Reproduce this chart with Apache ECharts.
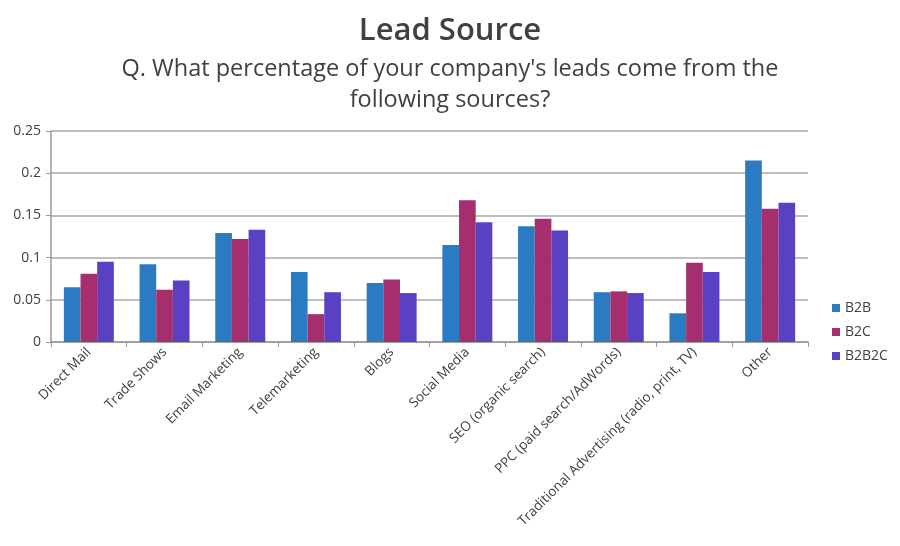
<!DOCTYPE html>
<html><head><meta charset="utf-8">
<script src="https://cdn.jsdelivr.net/npm/echarts@6/dist/echarts.min.js"></script>
<style>html,body{margin:0;padding:0;background:#fff}#c{width:900px;height:546px}</style>
</head><body><div id="c"></div>
<script>
var categories = ["Direct Mail","Trade Shows","Email Marketing","Telemarketing","Blogs","Social Media","SEO (organic search)","PPC (paid search/AdWords)","Traditional Advertising (radio, print, TV)","Other"];
var seriesNames = ["B2B","B2C","B2B2C"];
var b2b   = [0.065,0.092,0.129,0.083,0.070,0.115,0.137,0.059,0.034,0.215];
var b2c   = [0.081,0.062,0.122,0.033,0.074,0.168,0.146,0.060,0.094,0.158];
var b2b2c = [0.095,0.073,0.133,0.059,0.058,0.142,0.132,0.058,0.083,0.165];
var titleText = "Lead Source";
var subtitleLines = ["Q. What percentage of your company's leads come from the","following sources?"];
var colors = ["#2a7bc1","#a52f6e","#5a40c3"];
var font = "'Open Sans', sans-serif";
var chart = echarts.init(document.getElementById('c'));
var data = [b2b,b2c,b2b2c];
chart.setOption({
  animation:false,
  title:[
    {text:titleText, left:'center', top:11, textStyle:{fontFamily:font,fontSize:31,fontWeight:600,color:'#404040'}},
    {text:subtitleLines[0], left:'center', top:52, textStyle:{fontFamily:font,fontSize:23.5,fontWeight:'normal',color:'#404040'}},
    {text:subtitleLines[1], left:'center', top:83, textStyle:{fontFamily:font,fontSize:23.5,fontWeight:'normal',color:'#404040'}}
  ],
  legend:{orient:'vertical', left:827, top:296, itemWidth:8, itemHeight:8, itemGap:10, icon:'rect',
    textStyle:{fontFamily:font,fontSize:14,color:'#404040'}, data:seriesNames},
  grid:{left:51, right:92, top:131, bottom:204, containLabel:false},
  xAxis:{type:'category', data:categories,
    axisLine:{lineStyle:{color:'#999',width:1.5}},
    axisTick:{show:true,length:5,lineStyle:{color:'#999'}},
    axisLabel:{rotate:45, interval:0, fontFamily:font, fontSize:13.5, color:'#404040', margin:8}},
  yAxis:{type:'value', min:0, max:0.25, interval:0.05,
    axisLine:{show:true,lineStyle:{color:'#999',width:1.5}},
    axisTick:{show:true,length:5,lineStyle:{color:'#999'}},
    splitLine:{lineStyle:{color:'#aaa',width:1.5}},
    axisLabel:{fontFamily:font,fontSize:14,color:'#404040',margin:10}},
  series: seriesNames.map(function(n,i){return {
    name:n, type:'bar', data:data[i], barGap:'0%', barCategoryGap:'34%',
    itemStyle:{color:colors[i]}
  };})
});
</script></body></html>
